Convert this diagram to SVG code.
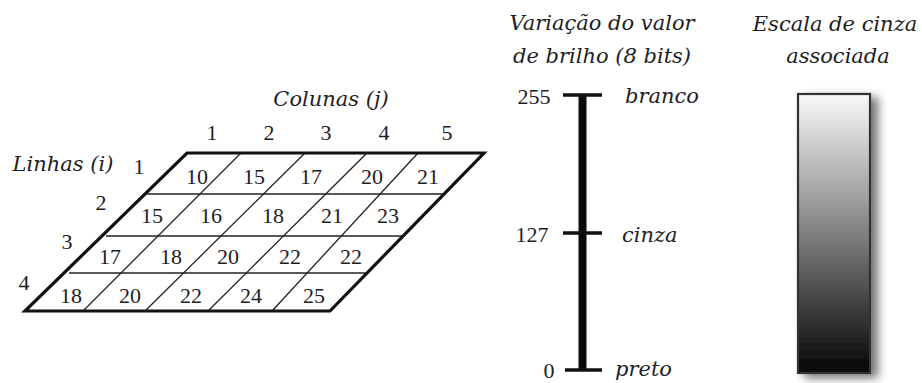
<svg xmlns="http://www.w3.org/2000/svg" width="922" height="383" viewBox="0 0 922 383">
<style>
.num{font-family:"Liberation Serif","Times New Roman",serif;font-size:22px;fill:#1e1e1e;text-anchor:middle}
.lbl{font-family:"DejaVu Serif",serif;font-style:italic;font-size:21px;fill:#1e1e26}
.mid{text-anchor:middle}
.thin{stroke:#222;stroke-width:1.3;fill:none}
.thick{stroke:#111;stroke-width:3.2;fill:none;stroke-linejoin:miter}
.tick{stroke:#111;stroke-width:3.5}
</style>
<defs>
<linearGradient id="gray" x1="0" y1="0" x2="0" y2="1">
<stop offset="0" stop-color="#f9f9f9"/>
<stop offset="0.5" stop-color="#808080"/>
<stop offset="1" stop-color="#050505"/>
</linearGradient>
<filter id="shadow" x="-30%" y="-10%" width="180%" height="125%">
<feGaussianBlur in="SourceAlpha" stdDeviation="5"/>
<feOffset dx="7" dy="4" result="b"/>
<feComponentTransfer><feFuncA type="linear" slope="0.55"/></feComponentTransfer>
<feMerge><feMergeNode/><feMergeNode in="SourceGraphic"/></feMerge>
</filter>
</defs>

<g id="grid">
<g class="thin">
<line x1="147" y1="194" x2="443" y2="194"/>
<line x1="106" y1="236" x2="403" y2="236"/>
<line x1="69" y1="273" x2="367" y2="273"/>
<line x1="241" y1="153" x2="83" y2="311"/>
<line x1="305" y1="153" x2="145" y2="311"/>
<line x1="367" y1="153" x2="208" y2="311"/>
<line x1="418" y1="153" x2="272" y2="311"/>
</g>
<polygon class="thick" points="187,153 484,153 330,311 25,311"/>
</g>

<g id="cells">
<text class="num" x="197" y="184">10</text>
<text class="num" x="254" y="184">15</text>
<text class="num" x="311" y="184">17</text>
<text class="num" x="372" y="184">20</text>
<text class="num" x="428" y="184">21</text>
<text class="num" x="152" y="223">15</text>
<text class="num" x="211" y="223">16</text>
<text class="num" x="273" y="223">18</text>
<text class="num" x="332" y="223">21</text>
<text class="num" x="388" y="223">23</text>
<text class="num" x="110" y="264">17</text>
<text class="num" x="171" y="264">18</text>
<text class="num" x="228" y="264">20</text>
<text class="num" x="290" y="264">22</text>
<text class="num" x="351" y="264">22</text>
<text class="num" x="71" y="303">18</text>
<text class="num" x="130" y="303">20</text>
<text class="num" x="191" y="303">22</text>
<text class="num" x="251" y="303">24</text>
<text class="num" x="314" y="303">25</text>
</g>

<g id="row-labels">
<text class="lbl mid" x="63" y="171">Linhas (i)</text>
<text class="num" x="139" y="174">1</text>
<text class="num" x="101" y="210">2</text>
<text class="num" x="67" y="249">3</text>
<text class="num" x="24" y="290">4</text>
</g>

<g id="col-labels">
<text class="lbl mid" x="331" y="106">Colunas (j)</text>
<text class="num" x="212" y="140">1</text>
<text class="num" x="269" y="140">2</text>
<text class="num" x="326" y="140">3</text>
<text class="num" x="384" y="140">4</text>
<text class="num" x="447" y="140">5</text>
</g>

<g id="scale">
<text class="lbl mid" x="602" y="30">Variação do valor</text>
<text class="lbl mid" x="602" y="63">de brilho (8 bits)</text>
<line x1="582.5" y1="95" x2="582.5" y2="370" stroke="#0a0a0a" stroke-width="8"/>
<line class="tick" x1="563" y1="95" x2="602" y2="95"/>
<line class="tick" x1="563" y1="233" x2="602" y2="233"/>
<line class="tick" x1="565" y1="370" x2="602" y2="370"/>
<text class="num" x="534" y="104">255</text>
<text class="num" x="532" y="242">127</text>
<text class="num" x="549" y="378">0</text>
<text class="lbl" x="625" y="103">branco</text>
<text class="lbl" x="622" y="242">cinza</text>
<text class="lbl" x="615" y="376">preto</text>
</g>

<g id="gray-scale">
<text class="lbl mid" x="835" y="31">Escala de cinza</text>
<text class="lbl mid" x="838" y="63">associada</text>
<rect x="798" y="94" width="72" height="279" fill="url(#gray)" stroke="#333" stroke-width="2.2" filter="url(#shadow)"/>
</g>
</svg>
